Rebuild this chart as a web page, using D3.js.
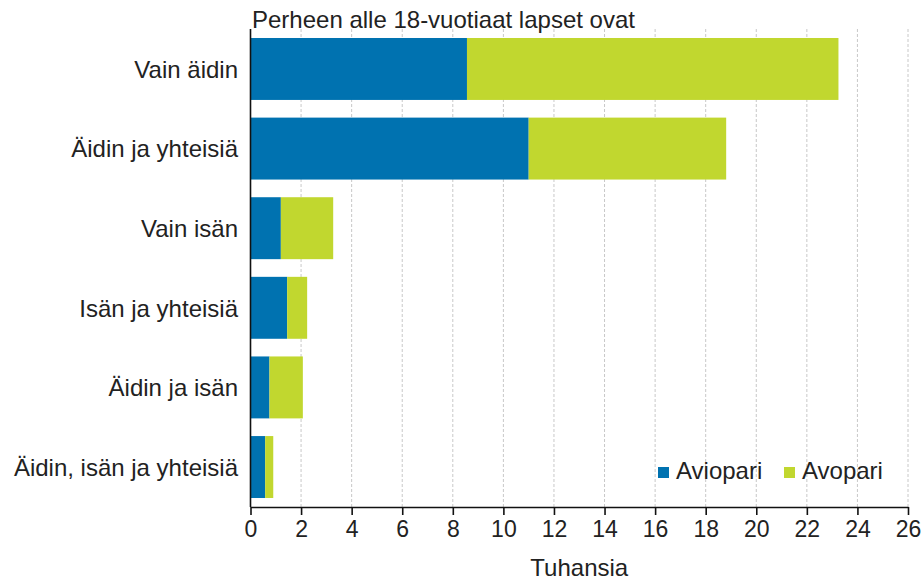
<!DOCTYPE html>
<html lang="fi">
<head>
    <meta charset="UTF-8">
    <title>Perheen alle 18-vuotiaat lapset</title>
    <script src="https://d3js.org/d3.v7.min.js"></script>
    <style>
        body, html {
            margin: 0;
            padding: 0;
            background: #fff;
        }
        svg text {
            font-family: "Liberation Sans", Arial, sans-serif;
            fill: #222;
        }
    </style>
</head>
<body>
    <script>
        'use strict'

        // data (tuhansia)
        const categories = ['Vain äidin', 'Äidin ja yhteisiä', 'Vain isän', 'Isän ja yhteisiä', 'Äidin ja isän', 'Äidin, isän ja yhteisiä']
        const aviopari = [8.56, 11.0, 1.2, 1.45, 0.75, 0.58]
        const avopari = [14.69, 7.81, 2.07, 0.79, 1.32, 0.32]
        const seriesNames = ['Aviopari', 'Avopari']
        const colors = ['#0072b0', '#c1d72f']
        const xTicks = [0, 2, 4, 6, 8, 10, 12, 14, 16, 18, 20, 22, 24, 26]

        const width = 924
        const height = 581
        const margin = {top: 29, right: 16, bottom: 74, left: 250.5}

        const rows = categories.map((c, i) => ({cat: c, Aviopari: aviopari[i], Avopari: avopari[i]}))
        const stacked = d3.stack().keys(seriesNames)(rows)

        const svg = d3.select('body')
            .append('svg')
            .attr('width', width)
            .attr('height', height)

        const x = d3.scaleLinear()
            .domain([0, 26])
            .range([margin.left, 908])

        const y = d3.scaleBand()
            .domain(categories)
            .range([margin.top, height - margin.bottom])
            .paddingInner(0.222)
            .paddingOuter(0.113)

        //gridlines
        svg.append('g')
            .selectAll('line')
            .data(xTicks.slice(1))
            .enter()
            .append('line')
            .attr('x1', d => x(d))
            .attr('x2', d => x(d))
            .attr('y1', margin.top)
            .attr('y2', height - margin.bottom)
            .attr('stroke', '#c8c8c8')
            .attr('stroke-width', 1)
            .attr('stroke-dasharray', '3,2')

        //bars
        svg.append('g')
            .selectAll('g')
            .data(stacked)
            .enter()
            .append('g')
            .attr('fill', (d, i) => colors[i])
            .selectAll('rect')
            .data(d => d)
            .enter()
            .append('rect')
            .attr('x', d => x(d[0]))
            .attr('width', d => x(d[1]) - x(d[0]))
            .attr('y', d => y(d.data.cat))
            .attr('height', y.bandwidth())

        //x axis
        const xAxis = d3.axisBottom(x)
            .tickValues(xTicks)
            .tickSize(8)
            .tickSizeOuter(0)
            .tickPadding(6)

        const gx = svg.append('g')
            .attr('transform', `translate(0, ${height - margin.bottom})`)
            .call(xAxis)
        gx.select('.domain').attr('stroke', '#111').attr('stroke-width', 1.6)
        gx.selectAll('.tick line').attr('stroke', '#111').attr('stroke-width', 1.6)
        gx.selectAll('.tick text')
            .style('font-size', '23px')
            .style('font-family', '"Liberation Sans", Arial, sans-serif')
            .attr('fill', '#222')

        //y axis line + labels
        svg.append('line')
            .attr('x1', margin.left)
            .attr('x2', margin.left)
            .attr('y1', margin.top)
            .attr('y2', height - margin.bottom)
            .attr('stroke', '#111')
            .attr('stroke-width', 1.6)

        svg.append('g')
            .selectAll('text')
            .data(categories)
            .enter()
            .append('text')
            .text(d => d)
            .attr('x', 238)
            .attr('y', d => y(d) + y.bandwidth() / 2)
            .attr('dy', '0.37em')
            .attr('text-anchor', 'end')
            .style('font-size', '24px')

        //titles
        svg.append('text')
            .text('Perheen alle 18-vuotiaat lapset ovat')
            .attr('x', 252)
            .attr('y', 28)
            .style('font-size', '24px')

        svg.append('text')
            .text('Tuhansia')
            .attr('x', (x(0) + x(26)) / 2)
            .attr('y', 576)
            .attr('text-anchor', 'middle')
            .style('font-size', '24px')

        //legend
        const legendX = [658, 784]
        const legend = svg.append('g')
        legend.selectAll('rect')
            .data(seriesNames)
            .enter()
            .append('rect')
            .attr('x', (d, i) => legendX[i])
            .attr('y', 467)
            .attr('width', 11)
            .attr('height', 11)
            .attr('fill', (d, i) => colors[i])
        legend.selectAll('text')
            .data(seriesNames)
            .enter()
            .append('text')
            .text(d => d)
            .attr('x', (d, i) => legendX[i] + 18)
            .attr('y', 479)
            .style('font-size', '24px')
    </script>
</body>
</html>
